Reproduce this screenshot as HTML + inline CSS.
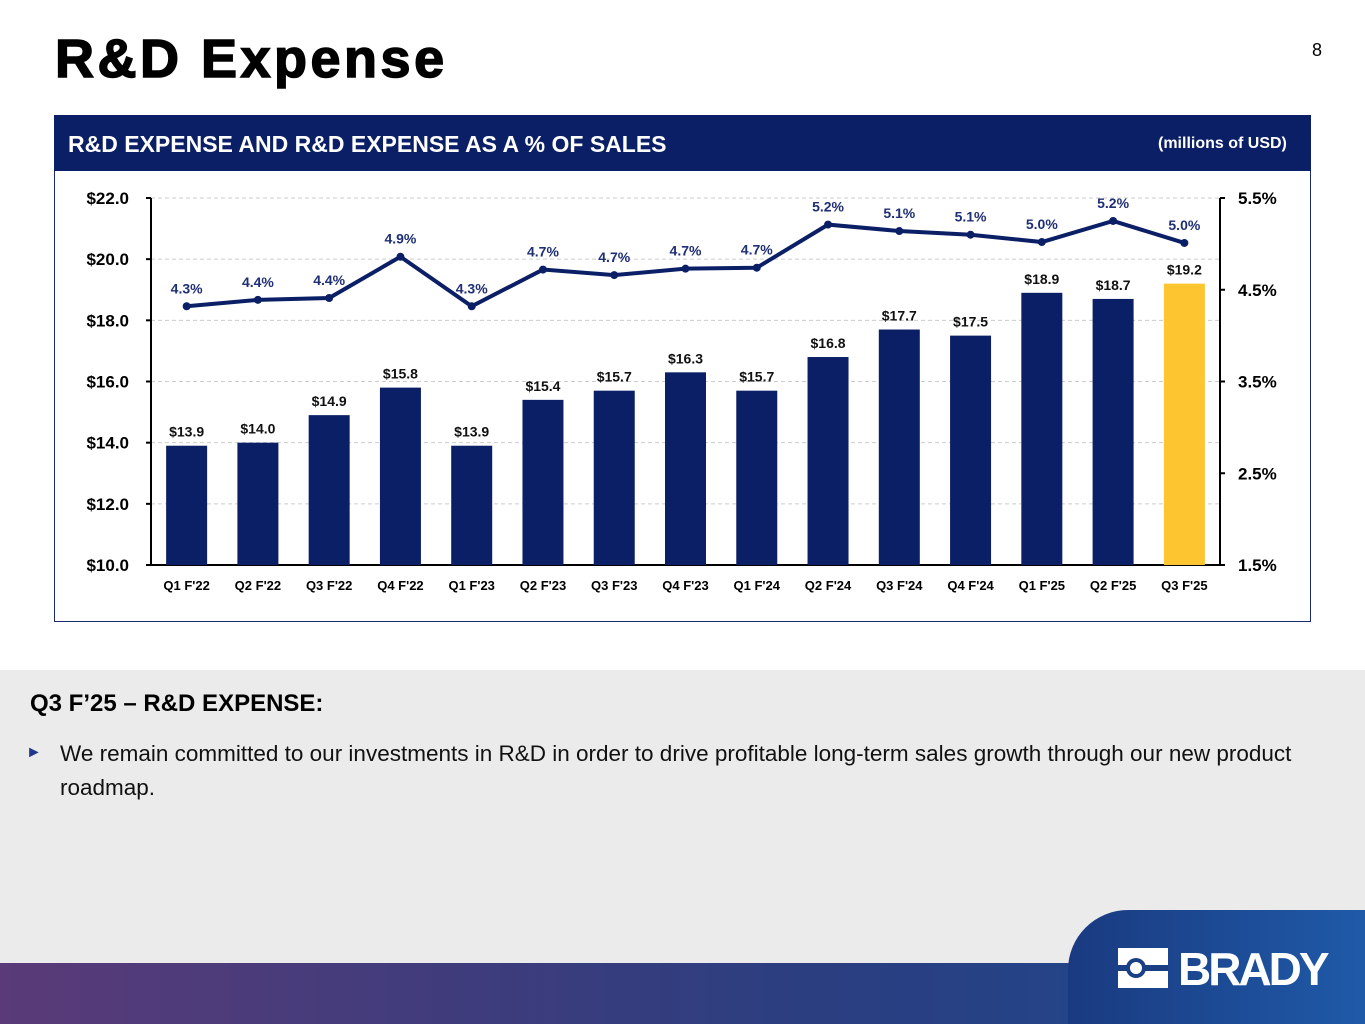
<!DOCTYPE html>
<html><head><meta charset="utf-8"><style>
body{margin:0;width:1365px;height:1024px;position:relative;overflow:hidden;background:#fff;font-family:"Liberation Sans",Arial,sans-serif}
.abs{position:absolute}
</style></head><body>
<div class="abs" style="left:55px;top:28px;font-size:54px;font-weight:bold;color:#000;letter-spacing:3.5px;-webkit-text-stroke:1.5px #000">R&amp;D Expense</div>
<div class="abs" style="left:1312px;top:40px;font-size:18px;color:#000">8</div>
<div class="abs" style="left:54px;top:115px;width:1257px;height:507px;border:1px solid #1a2a70;box-sizing:border-box"></div>
<div class="abs" style="left:54px;top:115px;width:1257px;height:56px;background:#0b1f66"></div>
<div class="abs" style="left:68px;top:131px;font-size:23px;font-weight:bold;color:#fff">R&amp;D EXPENSE AND R&amp;D EXPENSE AS A % OF SALES</div>
<div class="abs" style="left:1158px;top:135px;font-size:16px;font-weight:bold;color:#fff">(millions of USD)</div>
<svg class="abs" style="left:0;top:0" width="1365" height="640" id="chart"></svg>
<div class="abs" style="left:0;top:670px;width:1365px;height:300px;background:#ebebeb"></div>
<div class="abs" style="left:30px;top:690px;font-size:24px;font-weight:bold;color:#000">Q3 F’25 – R&amp;D EXPENSE:</div>
<div class="abs" style="left:26px;top:744px;font-size:16px;color:#1f3a8a">►</div>
<div class="abs" style="left:60px;top:737px;width:1290px;font-size:22.5px;line-height:34px;color:#111">We remain committed to our investments in R&amp;D in order to drive profitable long-term sales growth through our new product<br>roadmap.</div>
<div class="abs" style="left:0;top:963px;width:1365px;height:61px;background:linear-gradient(90deg,#5a3a78,#2a3e80 60%,#1e4a90)"></div>
<div class="abs" style="left:1068px;top:910px;width:297px;height:114px;background:linear-gradient(90deg,#1a3a80,#1f5aa8);border-top-left-radius:60px"></div>
<svg class="abs" style="left:1118px;top:948px" width="50" height="40"><rect x="0" y="0" width="50" height="40" fill="#fff"/><rect x="0" y="17" width="50" height="6" fill="#1a3f85"/><circle cx="18" cy="20" r="10" fill="#1a3f85"/><circle cx="18" cy="20" r="6" fill="#fff"/></svg>
<div class="abs" style="left:1178px;top:942px;font-size:46px;font-weight:bold;color:#fff;letter-spacing:-3px">BRADY</div>
<script>
const categories=["Q1 F'22","Q2 F'22","Q3 F'22","Q4 F'22","Q1 F'23","Q2 F'23","Q3 F'23","Q4 F'23","Q1 F'24","Q2 F'24","Q3 F'24","Q4 F'24","Q1 F'25","Q2 F'25","Q3 F'25"];
const expense=[13.9,14.0,14.9,15.8,13.9,15.4,15.7,16.3,15.7,16.8,17.7,17.5,18.9,18.7,19.2];
const pct=[4.32,4.39,4.41,4.86,4.32,4.72,4.66,4.73,4.74,5.21,5.14,5.10,5.02,5.25,5.01];
const pctLabels=["4.3%","4.4%","4.4%","4.9%","4.3%","4.7%","4.7%","4.7%","4.7%","5.2%","5.1%","5.1%","5.0%","5.2%","5.0%"];
const leftTicks=[10,12,14,16,18,20,22];
const rightTicks=[1.5,2.5,3.5,4.5,5.5];
const svg=document.getElementById('chart');const NS='http://www.w3.org/2000/svg';
const X0=151,X1=1220,Y0=565,Y1=198;
const bw=(X1-X0)/categories.length;
const yL=v=>Y0-(v-10)/12*(Y0-Y1);
const yR=v=>Y0-(v-1.5)/4*(Y0-Y1);
const xc=i=>X0+bw*(i+0.5);
function mk(t,a,txt){const e=document.createElementNS(NS,t);for(const k in a)e.setAttribute(k,a[k]);if(txt!==undefined)e.textContent=txt;svg.appendChild(e);return e;}
leftTicks.forEach(v=>{if(v>10){const g=mk('line',{x1:X0,x2:X1,y1:yL(v),y2:yL(v),stroke:'#ccc','stroke-dasharray':'4 3'});}
const t=mk('text',{x:X0-22,y:yL(v)+6,'text-anchor':'end','font-size':17,'font-weight':'bold'},'$'+v.toFixed(1));
mk('line',{x1:X0-5,x2:X0,y1:yL(v),y2:yL(v),stroke:'#000','stroke-width':2});});
rightTicks.forEach(v=>{const t=mk('text',{x:X1+18,y:yR(v)+6,'font-size':17,'font-weight':'bold'},v.toFixed(1)+'%');
mk('line',{x1:X1,x2:X1+5,y1:yR(v),y2:yR(v),stroke:'#000','stroke-width':2});});
mk('line',{x1:X0,x2:X0,y1:Y1,y2:Y0,stroke:'#000','stroke-width':2});
mk('line',{x1:X1,x2:X1,y1:Y1,y2:Y0,stroke:'#000','stroke-width':2});
mk('line',{x1:X0,x2:X1,y1:Y0,y2:Y0,stroke:'#000','stroke-width':2});
categories.forEach((c,i)=>{
const b=mk('rect',{x:xc(i)-20.5,y:yL(expense[i]),width:41,height:Y0-yL(expense[i]),fill:i==categories.length-1?'#fdc52f':'#0b1f66'});


const l=mk('text',{x:xc(i),y:yL(expense[i])-9,'text-anchor':'middle','font-size':14,'font-weight':'bold',fill:'#111'},'$'+expense[i].toFixed(1));

const xl=mk('text',{x:xc(i),y:Y0+25,'text-anchor':'middle','font-size':13,'font-weight':'bold'},c);

});
const line=mk('polyline',{points:pct.map((v,i)=>xc(i)+','+yR(v)).join(' '),fill:'none',stroke:'#0b1f66','stroke-width':4});

pct.forEach((v,i)=>{const p=mk('circle',{cx:xc(i),cy:yR(v),r:4,fill:'#0b1f66'});
const l=mk('text',{x:xc(i),y:yR(v)-13,'text-anchor':'middle','font-size':14,'font-weight':'bold',fill:'#1f2f75'},pctLabels[i]);
});
</script>
</body></html>
